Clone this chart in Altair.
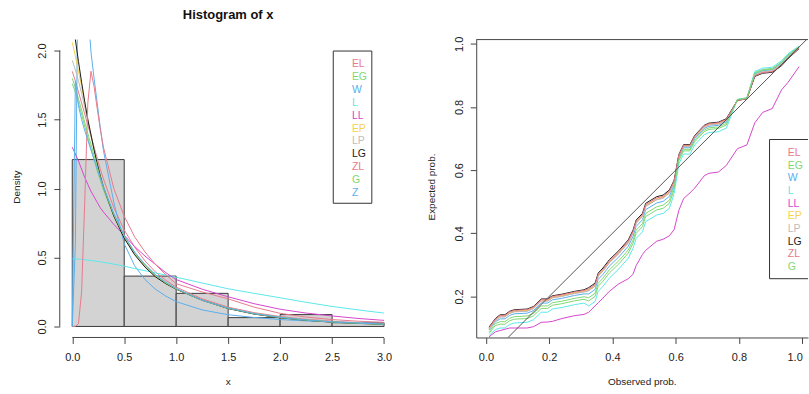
import altair as alt
import pandas as pd

FONT = "Liberation Sans"

# ---------------- data: histogram ----------------
BIN_START = [0.0, 0.5, 1.0, 1.5, 2.0, 2.5]
BIN_END = [0.5, 1.0, 1.5, 2.0, 2.5, 3.0]
BIN_DENSITY = [1.21, 0.365, 0.24, 0.064, 0.086, 0.027]

# ---------------- data: fitted density curves ----------------
CURVE_X = [0.0, 0.03, 0.06, 0.09, 0.12, 0.15, 0.18, 0.21, 0.24, 0.27, 0.30, 0.40, 0.50,
           0.60, 0.70, 0.80, 0.90, 1.00, 1.25, 1.50, 1.75, 2.00, 2.25, 2.50, 2.75, 3.00]
DENS_EL = [1.85, 1.78, 1.70, 1.62, 1.54, 1.46, 1.38, 1.30, 1.22, 1.14, 1.07, 0.86, 0.70,
           0.575, 0.475, 0.395, 0.335, 0.285, 0.20, 0.14, 0.10, 0.072, 0.052, 0.038, 0.028, 0.021]
DENS_EG = [1.76, 1.70, 1.62, 1.54, 1.45, 1.37, 1.29, 1.21, 1.13, 1.06, 0.99, 0.80, 0.65,
           0.535, 0.445, 0.375, 0.32, 0.275, 0.19, 0.133, 0.093, 0.066, 0.047, 0.033, 0.024, 0.017]
DENS_W = [0.0, 0.6, 3.0, 3.2, 2.75, 2.30, 1.99, 1.80, 1.62, 1.44, 1.275, 0.90, 0.60,
          0.44, 0.34, 0.27, 0.22, 0.18, 0.12, 0.085, 0.065, 0.05, 0.04, 0.033, 0.027, 0.022]
DENS_L = [0.49, 0.49, 0.488, 0.486, 0.484, 0.481, 0.478, 0.475, 0.472, 0.469, 0.465, 0.452, 0.437,
          0.42, 0.404, 0.388, 0.372, 0.357, 0.315, 0.273, 0.24, 0.208, 0.175, 0.145, 0.12, 0.097]
DENS_LL = [1.30, 1.25, 1.20, 1.14, 1.08, 1.03, 0.98, 0.94, 0.90, 0.86, 0.83, 0.74, 0.66,
           0.58, 0.51, 0.45, 0.39, 0.34, 0.27, 0.215, 0.165, 0.125, 0.097, 0.076, 0.058, 0.044]
DENS_EP = [2.06, 1.96, 1.85, 1.74, 1.62, 1.50, 1.39, 1.28, 1.18, 1.09, 1.01, 0.80, 0.645,
           0.525, 0.435, 0.365, 0.31, 0.27, 0.19, 0.13, 0.09, 0.064, 0.046, 0.032, 0.023, 0.017]
DENS_LP = [1.93, 1.86, 1.78, 1.69, 1.59, 1.49, 1.39, 1.29, 1.19, 1.10, 1.02, 0.81, 0.65,
           0.53, 0.44, 0.37, 0.315, 0.272, 0.19, 0.132, 0.092, 0.065, 0.047, 0.033, 0.024, 0.017]
DENS_LG = [2.40, 2.08, 1.92, 1.77, 1.63, 1.50, 1.39, 1.28, 1.18, 1.09, 1.01, 0.80, 0.64,
           0.52, 0.43, 0.36, 0.31, 0.27, 0.19, 0.13, 0.09, 0.063, 0.045, 0.031, 0.022, 0.016]
DENS_ZL = [0.0, 0.0, 0.02, 0.25, 0.90, 1.62, 1.85, 1.74, 1.58, 1.43, 1.30, 1.00, 0.80,
           0.65, 0.54, 0.45, 0.375, 0.31, 0.25, 0.20, 0.14, 0.095, 0.068, 0.05, 0.038, 0.03]
DENS_G = [1.80, 1.73, 1.65, 1.57, 1.48, 1.40, 1.32, 1.24, 1.16, 1.08, 1.01, 0.81, 0.655,
          0.535, 0.445, 0.37, 0.315, 0.272, 0.19, 0.132, 0.092, 0.065, 0.046, 0.032, 0.023, 0.016]
DENS_Z = [0.0, 1.78, 1.60, 1.50, 1.42, 1.35, 1.28, 1.21, 1.14, 1.07, 1.01, 0.82, 0.66,
          0.54, 0.45, 0.375, 0.32, 0.275, 0.19, 0.133, 0.093, 0.066, 0.047, 0.033, 0.024, 0.017]

# ---------------- data: P-P plot ----------------
PP_X = [0.01, 0.03, 0.045, 0.06, 0.075, 0.09, 0.13, 0.15, 0.175, 0.195,
        0.21, 0.24, 0.28, 0.31, 0.325, 0.345, 0.355, 0.37, 0.39, 0.42,
        0.45, 0.465, 0.475, 0.495, 0.505, 0.54, 0.56, 0.58, 0.595, 0.61,
        0.625, 0.645, 0.66, 0.69, 0.705, 0.735, 0.76, 0.795, 0.825, 0.85,
        0.875, 0.905, 0.935, 0.955, 0.99]
PP_LG = [0.103, 0.130, 0.142, 0.142, 0.153, 0.158, 0.160, 0.168, 0.192, 0.192,
         0.202, 0.207, 0.216, 0.221, 0.228, 0.242, 0.274, 0.290, 0.316, 0.345,
         0.379, 0.410, 0.442, 0.463, 0.495, 0.516, 0.521, 0.537, 0.568, 0.650,
         0.681, 0.681, 0.710, 0.742, 0.749, 0.752, 0.763, 0.821, 0.826, 0.897,
         0.907, 0.910, 0.931, 0.953, 0.985]
PP_EP = [0.099, 0.126, 0.138, 0.138, 0.149, 0.154, 0.156, 0.164, 0.188, 0.188,
         0.198, 0.203, 0.212, 0.217, 0.222, 0.236, 0.268, 0.284, 0.310, 0.339,
         0.373, 0.404, 0.436, 0.457, 0.489, 0.510, 0.515, 0.531, 0.564, 0.645,
         0.678, 0.678, 0.707, 0.739, 0.746, 0.749, 0.760, 0.821, 0.827, 0.900,
         0.910, 0.913, 0.934, 0.956, 0.988]
PP_LP = [0.096, 0.123, 0.135, 0.135, 0.146, 0.151, 0.153, 0.161, 0.185, 0.185,
         0.195, 0.200, 0.209, 0.214, 0.218, 0.232, 0.264, 0.280, 0.306, 0.335,
         0.369, 0.400, 0.432, 0.453, 0.485, 0.506, 0.511, 0.527, 0.560, 0.642,
         0.675, 0.675, 0.704, 0.736, 0.743, 0.746, 0.757, 0.822, 0.827, 0.902,
         0.912, 0.915, 0.936, 0.958, 0.990]
PP_EL = [0.097, 0.124, 0.136, 0.136, 0.147, 0.152, 0.154, 0.162, 0.186, 0.186,
         0.196, 0.201, 0.210, 0.215, 0.219, 0.233, 0.265, 0.281, 0.307, 0.336,
         0.370, 0.401, 0.433, 0.454, 0.486, 0.507, 0.512, 0.528, 0.562, 0.645,
         0.676, 0.676, 0.705, 0.737, 0.744, 0.747, 0.758, 0.822, 0.827, 0.901,
         0.911, 0.914, 0.935, 0.957, 0.989]
PP_ZL = [0.101, 0.128, 0.140, 0.140, 0.151, 0.156, 0.158, 0.166, 0.190, 0.190,
         0.200, 0.205, 0.214, 0.219, 0.224, 0.238, 0.270, 0.286, 0.312, 0.341,
         0.375, 0.406, 0.438, 0.459, 0.491, 0.512, 0.517, 0.533, 0.566, 0.648,
         0.679, 0.679, 0.708, 0.740, 0.747, 0.750, 0.761, 0.821, 0.826, 0.899,
         0.909, 0.912, 0.933, 0.955, 0.987]
PP_W = [0.094, 0.120, 0.129, 0.129, 0.140, 0.145, 0.147, 0.155, 0.179, 0.179,
        0.189, 0.194, 0.203, 0.208, 0.208, 0.222, 0.254, 0.270, 0.296, 0.325,
        0.359, 0.390, 0.422, 0.443, 0.475, 0.496, 0.501, 0.517, 0.553, 0.640,
        0.671, 0.671, 0.700, 0.732, 0.739, 0.742, 0.753, 0.823, 0.828, 0.905,
        0.915, 0.918, 0.939, 0.961, 0.991]
PP_G = [0.088, 0.114, 0.120, 0.120, 0.131, 0.136, 0.138, 0.146, 0.170, 0.170,
        0.180, 0.185, 0.194, 0.199, 0.196, 0.210, 0.242, 0.258, 0.284, 0.313,
        0.347, 0.378, 0.410, 0.431, 0.463, 0.484, 0.489, 0.505, 0.546, 0.635,
        0.666, 0.666, 0.695, 0.727, 0.734, 0.737, 0.748, 0.823, 0.828, 0.907,
        0.917, 0.920, 0.941, 0.963, 0.992]
PP_EG = [0.083, 0.108, 0.112, 0.112, 0.123, 0.128, 0.130, 0.138, 0.162, 0.162,
         0.172, 0.177, 0.186, 0.191, 0.186, 0.200, 0.232, 0.248, 0.274, 0.303,
         0.337, 0.368, 0.400, 0.421, 0.453, 0.474, 0.479, 0.495, 0.538, 0.630,
         0.661, 0.661, 0.690, 0.722, 0.729, 0.732, 0.743, 0.824, 0.829, 0.909,
         0.919, 0.922, 0.943, 0.965, 0.992]
PP_L = [0.076, 0.095, 0.100, 0.100, 0.111, 0.116, 0.118, 0.126, 0.150, 0.150,
        0.160, 0.165, 0.174, 0.179, 0.170, 0.184, 0.216, 0.232, 0.258, 0.287,
        0.321, 0.352, 0.384, 0.405, 0.437, 0.458, 0.463, 0.479, 0.526, 0.620,
        0.651, 0.651, 0.680, 0.712, 0.719, 0.722, 0.733, 0.824, 0.829, 0.913,
        0.923, 0.926, 0.947, 0.969, 0.993]
PP_LL = [0.072, 0.088, 0.092, 0.096, 0.100, 0.100, 0.100, 0.104, 0.118, 0.119,
         0.121, 0.130, 0.139, 0.143, 0.150, 0.170, 0.180, 0.195, 0.216, 0.240,
         0.256, 0.270, 0.298, 0.333, 0.346, 0.375, 0.381, 0.392, 0.412, 0.473,
         0.510, 0.528, 0.543, 0.582, 0.590, 0.594, 0.615, 0.668, 0.680, 0.750,
         0.783, 0.795, 0.855, 0.878, 0.928]
DIAG = [0.0, 1.1]

HIST_NAMES = ["EL", "EG", "W", "L", "LL", "EP", "LP", "LG", "ZL", "G", "Z"]
PP_NAMES = ["EL", "EG", "W", "L", "LL", "EP", "LP", "LG", "ZL", "G"]
COLORS = {"EL": "#E8798E", "EG": "#80D873", "W": "#5BAFEC", "L": "#5CE8EA",
          "LL": "#D646CB", "EP": "#F6D24A", "LP": "#BDBDBD", "LG": "#1A1A1A",
          "ZL": "#E8798E", "G": "#80D873", "Z": "#5BAFEC"}

DENS = {"EL": DENS_EL, "EG": DENS_EG, "W": DENS_W, "L": DENS_L, "LL": DENS_LL,
        "EP": DENS_EP, "LP": DENS_LP, "LG": DENS_LG, "ZL": DENS_ZL, "G": DENS_G, "Z": DENS_Z}
PP = {"EL": PP_EL, "EG": PP_EG, "W": PP_W, "L": PP_L, "LL": PP_LL,
      "EP": PP_EP, "LP": PP_LP, "LG": PP_LG, "ZL": PP_ZL, "G": PP_G}

hist_df = pd.DataFrame({"start": BIN_START, "end": BIN_END, "density": BIN_DENSITY})
curve_df = pd.DataFrame([{"series": n, "x": x, "y": y}
                         for n in HIST_NAMES for x, y in zip(CURVE_X, DENS[n])])
pp_df = pd.DataFrame([{"series": n, "x": x, "y": y}
                      for n in PP_NAMES for x, y in zip(PP_X, PP[n])])
diag_df = pd.DataFrame({"x": DIAG, "y": DIAG})
ONE = pd.DataFrame({"k": [0]})

AX_COL = "#444444"
TXT_COL = "#222222"
H = 299
TITLE_SIZE = 10

# ================= left panel =================
W_L = 338
XS_L = alt.Scale(domain=[-0.12, 3.12], nice=False, zero=False)
YS_L = alt.Scale(domain=[-0.08, 2.08], nice=False, zero=False)
AXX_L = alt.Axis(values=[0, 0.5, 1, 1.5, 2, 2.5, 3], format=".1f", domain=False, title=None,
                 labelPadding=8, labelFlush=False, labelOverlap=False)
AXY_L = alt.Axis(values=[0, 0.5, 1, 1.5, 2], format=".1f", domain=False, title=None,
                 labelAngle=270, labelAlign="center", labelBaseline="bottom",
                 labelPadding=6, labelFlush=False, labelOverlap=False)

bars = alt.Chart(hist_df).mark_rect(fill="#D3D3D3", stroke="#3A3A3A", strokeWidth=1).encode(
    x=alt.X("start:Q", scale=XS_L, axis=AXX_L, title=None),
    x2="end:Q",
    y=alt.Y("density:Q", scale=YS_L, axis=AXY_L, title=None),
    y2=alt.datum(0),
)

left_layers = [bars]
for n in HIST_NAMES:
    left_layers.append(
        alt.Chart(curve_df).transform_filter(alt.datum.series == n)
        .mark_line(clip=True, color=COLORS[n], strokeWidth=1)
        .encode(x=alt.X("x:Q", scale=XS_L, axis=AXX_L, title=None),
                y=alt.Y("y:Q", scale=YS_L, axis=AXY_L, title=None))
    )

# axis lines spanning the tick range only (R style)
left_layers.append(alt.Chart(ONE).mark_rule(color=AX_COL, strokeWidth=1).encode(
    x=alt.X(datum=0, scale=XS_L, axis=AXX_L, title=None), x2=alt.datum(3), y=alt.value(H)))
left_layers.append(alt.Chart(ONE).mark_rule(color=AX_COL, strokeWidth=1).encode(
    y=alt.Y(datum=0, scale=YS_L, axis=AXY_L, title=None), y2=alt.datum(2), x=alt.value(0)))

# legend
left_layers.append(alt.Chart(ONE).mark_rect(fill="white", stroke="#333333", strokeWidth=1).encode(
    x=alt.value(274.5), x2=alt.value(313.2), y=alt.value(11.5), y2=alt.value(164.3)))
for i, n in enumerate(HIST_NAMES):
    left_layers.append(alt.Chart(ONE).mark_text(
        text=n, color=COLORS[n], align="left", baseline="middle", font=FONT, fontSize=10.5
    ).encode(x=alt.value(293.2), y=alt.value(25 + i * 12.87)))

# titles
left_layers.append(alt.Chart(ONE).mark_text(
    text="Histogram of x", font=FONT, fontSize=13, fontWeight="bold", color="#111111",
    align="center", baseline="middle").encode(x=alt.value(169), y=alt.value(-25)))
left_layers.append(alt.Chart(ONE).mark_text(
    text="x", font=FONT, fontSize=TITLE_SIZE, color=TXT_COL, align="center", baseline="middle"
).encode(x=alt.value(169), y=alt.value(343.5)))
left_layers.append(alt.Chart(ONE).mark_text(
    text="Density", font=FONT, fontSize=TITLE_SIZE, color=TXT_COL, align="center",
    baseline="middle", angle=270).encode(x=alt.value(-42.5), y=alt.value(148)))
# layout anchor (invisible)
left_layers.append(alt.Chart(ONE).mark_rule(color="white", opacity=0).encode(
    x=alt.value(-59.5), x2=alt.value(350.5), y=alt.value(-39), y2=alt.value(355)))

left = alt.layer(*left_layers).properties(width=W_L, height=H)

# ================= right panel =================
W_R = 333
XS_R = alt.Scale(domain=[-0.0306, 1.0182], nice=False, zero=False)
YS_R = alt.Scale(domain=[0.0700, 1.0136], nice=False, zero=False)
AXX_R = alt.Axis(values=[0, 0.2, 0.4, 0.6, 0.8, 1.0], format=".1f", title=None,
                 labelPadding=8, labelFlush=False, labelOverlap=False,
                 labelAlign={"condition": {"test": "datum.value >= 0.99", "value": "right"},
                             "value": "center"})
AXY_R = alt.Axis(values=[0.2, 0.4, 0.6, 0.8, 1.0], format=".1f", title=None,
                 labelAngle=270, labelAlign="center", labelBaseline="bottom",
                 labelPadding=6, labelFlush=False, labelOverlap=False)

right_layers = []
for n in PP_NAMES:
    right_layers.append(
        alt.Chart(pp_df).transform_filter(alt.datum.series == n)
        .mark_line(clip=True, color=COLORS[n], strokeWidth=1)
        .encode(x=alt.X("x:Q", scale=XS_R, axis=AXX_R, title=None),
                y=alt.Y("y:Q", scale=YS_R, axis=AXY_R, title=None))
    )

right_layers.append(alt.Chart(diag_df).mark_line(clip=True, color="#555555", strokeWidth=1).encode(
    x=alt.X("x:Q", scale=XS_R, axis=AXX_R, title=None),
    y=alt.Y("y:Q", scale=YS_R, axis=AXY_R, title=None)))

# top border of the box
right_layers.append(alt.Chart(ONE).mark_rule(color=AX_COL, strokeWidth=1).encode(
    x=alt.value(0), x2=alt.value(W_R), y=alt.value(0)))

# legend (right edge cut off by the window)
LX0, LY0, LY1 = 294.4, 100.3, 240.0
right_layers.append(alt.Chart(ONE).mark_rect(fill="white").encode(
    x=alt.value(LX0), x2=alt.value(W_R), y=alt.value(LY0), y2=alt.value(LY1)))
right_layers.append(alt.Chart(ONE).mark_rule(color="#333333", strokeWidth=1).encode(
    x=alt.value(LX0), x2=alt.value(W_R), y=alt.value(LY0)))
right_layers.append(alt.Chart(ONE).mark_rule(color="#333333", strokeWidth=1).encode(
    x=alt.value(LX0), x2=alt.value(W_R), y=alt.value(LY1)))
right_layers.append(alt.Chart(ONE).mark_rule(color="#333333", strokeWidth=1).encode(
    x=alt.value(LX0), y=alt.value(LY0), y2=alt.value(LY1)))
for i, n in enumerate(PP_NAMES):
    right_layers.append(alt.Chart(ONE).mark_text(
        text=n, color=COLORS[n], align="left", baseline="middle", font=FONT, fontSize=10.5
    ).encode(x=alt.value(312.7), y=alt.value(113.7 + i * 12.73)))

right_layers.append(alt.Chart(ONE).mark_text(
    text="Observed prob.", font=FONT, fontSize=TITLE_SIZE, color=TXT_COL, align="center",
    baseline="middle").encode(x=alt.value(166.7), y=alt.value(343.5)))
right_layers.append(alt.Chart(ONE).mark_text(
    text="Expected prob.", font=FONT, fontSize=TITLE_SIZE, color=TXT_COL, align="center",
    baseline="middle", angle=270).encode(x=alt.value(-44.5), y=alt.value(148)))
right_layers.append(alt.Chart(ONE).mark_rule(color="white", opacity=0).encode(
    x=alt.value(-66.3), x2=alt.value(W_R), y=alt.value(-39), y2=alt.value(355)))

right = alt.layer(*right_layers).properties(width=W_R, height=H)

chart = alt.hconcat(left, right, spacing=0).properties(
    padding={"left": 0, "top": 0, "right": 0, "bottom": 0}
).configure_view(stroke=None).configure_axis(
    grid=False, labelFont=FONT, labelFontSize=11, labelColor=TXT_COL,
    tickColor=AX_COL, tickSize=6, tickWidth=1, domainColor=AX_COL, domainWidth=1,
)

chart.save("out.html", embed_options={"renderer": "svg", "actions": False})
